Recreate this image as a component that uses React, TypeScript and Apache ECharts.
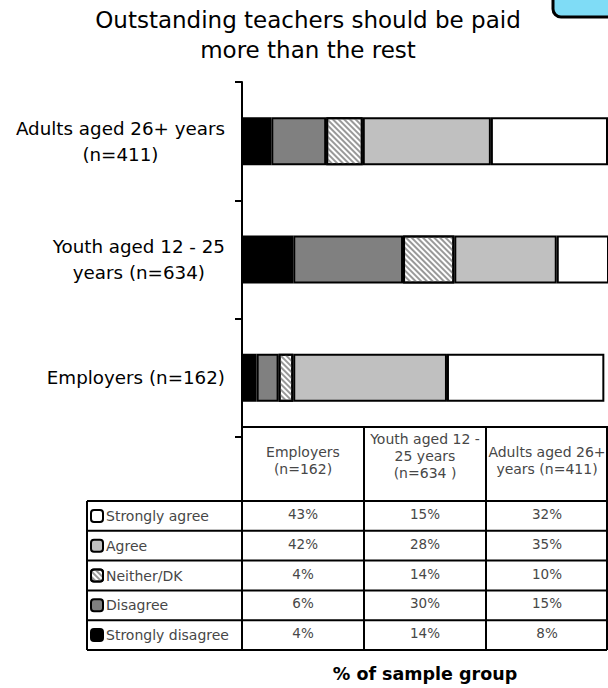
import React, { useEffect, useRef } from "react";
import * as echarts from "echarts";

// ---------- data ----------
const categories = ["Employers (n=162)", "Youth aged 12 - 25 years (n=634)", "Adults aged 26+ years (n=411)"];
const axisLabelLines = [["Employers (n=162)"], ["Youth aged 12 - 25", "years (n=634)"], ["Adults aged 26+ years", "(n=411)"]];
const tableHeaderLines = [["Employers", "(n=162)"], ["Youth aged 12 -", "25 years", "(n=634 )"], ["Adults aged 26+", "years (n=411)"]];
const seriesNames = ["Strongly disagree", "Disagree", "Neither/DK", "Agree", "Strongly agree"];
const stronglyDisagree = [4, 14, 8];
const disagree = [6, 30, 15];
const neither = [4, 14, 10];
const agree = [42, 28, 35];
const stronglyAgree = [43, 15, 32];
const tableRowOrder = ["Strongly agree", "Agree", "Neither/DK", "Disagree", "Strongly disagree"];
const titleText = "Outstanding teachers should be paid\nmore than the rest";
const xAxisTitle = "% of sample group";

// ---------- layout / style ----------
const FONT = "DejaVu Sans";
const GRID_LEFT = 242;
const GRID_WIDTH = 366;
const GRID_TOP = 82;
const GRID_BOTTOM_Y = 438;
const TABLE_TOP = 427;
const HEADER_BOTTOM = 501;
const ROW_H = 29.8;
const LEGEND_LEFT = 87;
const TABLE_RIGHT = 607;

const seriesValues: Record<string, number[]> = {
  "Strongly disagree": stronglyDisagree,
  Disagree: disagree,
  "Neither/DK": neither,
  Agree: agree,
  "Strongly agree": stronglyAgree,
};
const seriesColors: Record<string, string> = {
  "Strongly disagree": "#000000",
  Disagree: "#808080",
  "Neither/DK": "#ffffff",
  Agree: "#c0c0c0",
  "Strongly agree": "#ffffff",
};

function buildOption() {
  const colW = GRID_WIDTH / 3;
  const tableBottom = HEADER_BOTTOM + ROW_H * tableRowOrder.length;
  const lineStyle = { stroke: "#000", lineWidth: 2 };
  const graphics: any[] = [];

  // corner box
  graphics.push({
    type: "rect",
    shape: { x: 553, y: -20, width: 80, height: 37, r: 8 },
    style: { fill: "#7fdcf6", stroke: "#000", lineWidth: 3 },
  });

  // table lines
  graphics.push({ type: "line", shape: { x1: GRID_LEFT, y1: TABLE_TOP, x2: 608, y2: TABLE_TOP }, style: lineStyle });
  for (let r = 0; r <= tableRowOrder.length; r++) {
    const y = HEADER_BOTTOM + r * ROW_H;
    graphics.push({ type: "line", shape: { x1: LEGEND_LEFT, y1: y, x2: TABLE_RIGHT, y2: y }, style: lineStyle });
  }
  for (let c = 0; c <= 3; c++) {
    const x = c === 3 ? TABLE_RIGHT : GRID_LEFT + c * colW;
    graphics.push({ type: "line", shape: { x1: x, y1: TABLE_TOP, x2: x, y2: tableBottom }, style: lineStyle });
  }
  graphics.push({ type: "line", shape: { x1: LEGEND_LEFT, y1: HEADER_BOTTOM, x2: LEGEND_LEFT, y2: tableBottom }, style: lineStyle });

  // header texts
  tableHeaderLines.forEach((lines, c) => {
    graphics.push({
      type: "text",
      x: GRID_LEFT + (c + 0.5) * colW,
      y: (TABLE_TOP + HEADER_BOTTOM) / 2 - (lines.length > 2 ? 8 : 4),
      style: {
        text: lines.join("\n"),
        align: "center",
        verticalAlign: "middle",
        fontFamily: FONT,
        fontSize: 14,
        lineHeight: 17,
        fill: "#474747",
      },
    });
  });
  // values
  tableRowOrder.forEach((name, r) => {
    seriesValues[name].forEach((v, c) => {
      graphics.push({
        type: "text",
        x: GRID_LEFT + (c + 0.5) * colW,
        y: HEADER_BOTTOM + (r + 0.5) * ROW_H - 2,
        style: {
          text: v + "%",
          align: "center",
          verticalAlign: "middle",
          fontFamily: FONT,
          fontSize: 13.5,
          fill: "#474747",
        },
      });
    });
  });

  const series = seriesNames.map((name) => ({
    name,
    type: "bar",
    stack: "total",
    barWidth: 48,
    data: seriesValues[name],
    itemStyle: {
      color: seriesColors[name],
      borderColor: "#000",
      borderWidth: 2,
      decal:
        name === "Neither/DK"
          ? {
              symbol: "rect",
              symbolSize: 1,
              dashArrayX: [1, 0],
              dashArrayY: [1.6, 1.6],
              rotation: Math.PI / 4,
              color: "#999999",
            }
          : undefined,
    },
    emphasis: { disabled: true },
  }));

  return {
    animation: false,
    backgroundColor: "#fff",
    aria: { enabled: false },
    title: {
      text: titleText,
      left: 308,
      textAlign: "center",
      top: 5,
      padding: 0,
      textStyle: { fontFamily: FONT, fontSize: 23, fontWeight: "normal", color: "#000", lineHeight: 30 },
    },
    legend: {
      data: tableRowOrder,
      orient: "vertical",
      left: LEGEND_LEFT + 3,
      top: HEADER_BOTTOM + ROW_H / 2 - 7,
      itemGap: ROW_H - 14,
      itemWidth: 12,
      itemHeight: 12,
      icon: "roundRect",
      padding: 0,
      selectedMode: false,
      itemStyle: { borderColor: "#000", borderWidth: 2 },
      textStyle: { fontFamily: FONT, fontSize: 14, color: "#474747", lineHeight: 14, padding: [0, 0, 0, -2] },
    },
    grid: { left: GRID_LEFT, width: GRID_WIDTH, top: GRID_TOP, height: GRID_BOTTOM_Y - GRID_TOP, containLabel: false },
    xAxis: {
      type: "value",
      min: 0,
      max: 100,
      axisLine: { show: false },
      axisTick: { show: false },
      axisLabel: { show: false },
      splitLine: { show: false },
      name: xAxisTitle,
      nameLocation: "middle",
      nameGap: 228,
      nameTextStyle: { fontFamily: FONT, fontSize: 17.5, fontWeight: "bold", color: "#000" },
    },
    yAxis: {
      type: "category",
      data: categories,
      axisLine: { show: true, lineStyle: { color: "#000", width: 2 } },
      axisTick: { show: true, length: 7, lineStyle: { color: "#000", width: 2 } },
      axisLabel: {
        margin: 17,
        align: "right",
        formatter: (_v: string, i: number) => axisLabelLines[i].map((l) => `{c|${l}}`).join("\n"),
        rich: {
          c: { align: "center", fontFamily: FONT, fontSize: 18.3, color: "#000", lineHeight: 26 },
        },
      },
      splitLine: { show: false },
    },
    series,
    graphic: graphics,
  };
}

export default function App() {
  const ref = useRef<HTMLDivElement>(null);
  useEffect(() => {
    const chart = echarts.init(ref.current!, undefined, { renderer: "svg" });
    chart.setOption(buildOption() as any);
    return () => chart.dispose();
  }, []);
  return (
    <div
      ref={ref}
      style={{ position: "fixed", left: 0, top: 0, width: 608, height: 688, background: "#fff" }}
    />
  );
}
